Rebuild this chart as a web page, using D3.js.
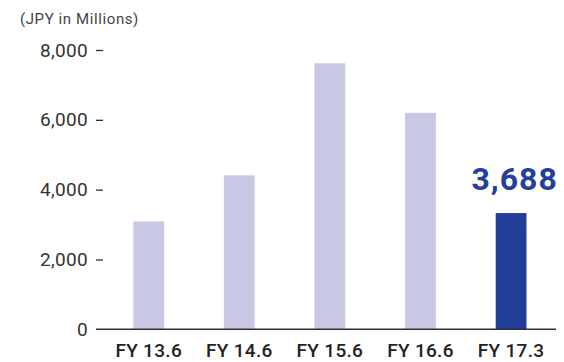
<!DOCTYPE html>
<html>
<head>
<meta charset="utf-8">
<script src="https://cdn.jsdelivr.net/npm/d3@7"></script>
<style>
  body { margin: 0; background: #fff; }
  svg { display: block; font-family: Roboto, "Noto Sans", sans-serif; }
</style>
</head>
<body>
<svg width="564" height="362"></svg>
<script>
// data
var years = ["FY 13.6", "FY 14.6", "FY 15.6", "FY 16.6", "FY 17.3"];
var values = [3090, 4410, 7620, 6200, 3330];
var yTicks = [0, 2000, 4000, 6000, 8000];
var unitLabel = "(JPY in Millions)";
var highlightLabel = "3,688";

var svg = d3.select("svg");

var x = d3.scaleBand()
    .domain(years)
    .range([103.4, 556.4])
    .paddingInner(0.66)
    .paddingOuter(0.33);

var y = d3.scaleLinear()
    .domain([0, 8000])
    .range([329.3, 50]);

// unit label
svg.append("text")
    .attr("x", 20)
    .attr("y", 24)
    .attr("fill", "#444")
    .style("font-size", "15px")
    .style("letter-spacing", "0.6px")
    .text(unitLabel);

// y axis
var yAxis = svg.append("g")
    .attr("transform", "translate(103,0)")
    .call(d3.axisLeft(y)
      .tickValues(yTicks)
      .tickSize(7)
      .tickPadding(8)
      .tickFormat(d3.format(",")));

yAxis.select(".domain").remove();
yAxis.selectAll(".tick line")
    .attr("stroke", "#333")
    .attr("stroke-width", 1.3)
    .filter(function(d) { return d === 0; }).remove();
yAxis.selectAll(".tick text")
    .attr("fill", "#333")
    .style("font-size", "19px")
    .style("letter-spacing", "0.3px")
    .style("font-family", "Roboto, sans-serif");

// bars
svg.append("g").selectAll("rect")
    .data(values)
  .enter().append("rect")
    .attr("x", function(d, i) { return x(years[i]); })
    .attr("y", function(d) { return y(d); })
    .attr("width", x.bandwidth())
    .attr("height", function(d) { return y(0) - y(d); })
    .attr("fill", function(d, i) { return i === values.length - 1 ? "#22409a" : "#c8c8e4"; });

// baseline
svg.append("line")
    .attr("x1", 96)
    .attr("x2", 556)
    .attr("y1", y(0))
    .attr("y2", y(0))
    .attr("stroke", "#333")
    .attr("stroke-width", 1.5);

// x labels
svg.append("g").selectAll("text")
    .data(years)
  .enter().append("text")
    .attr("x", function(d) { return x(d) + x.bandwidth() / 2; })
    .attr("y", 357)
    .attr("text-anchor", "middle")
    .attr("fill", "#222")
    .style("font-size", "19px")
    .style("font-weight", 500)
    .style("letter-spacing", "0.3px")
    .text(function(d) { return d; });

// highlight value
var last = years.length - 1;
svg.append("text")
    .attr("x", x(years[last]) + x.bandwidth() / 2 + 3.5)
    .attr("y", y(values[last]) - 23)
    .attr("text-anchor", "middle")
    .attr("fill", "#22409a")
    .style("font-size", "32px")
    .style("font-weight", 700)
    .style("letter-spacing", "1px")
    .text(highlightLabel);
</script>
</body>
</html>
